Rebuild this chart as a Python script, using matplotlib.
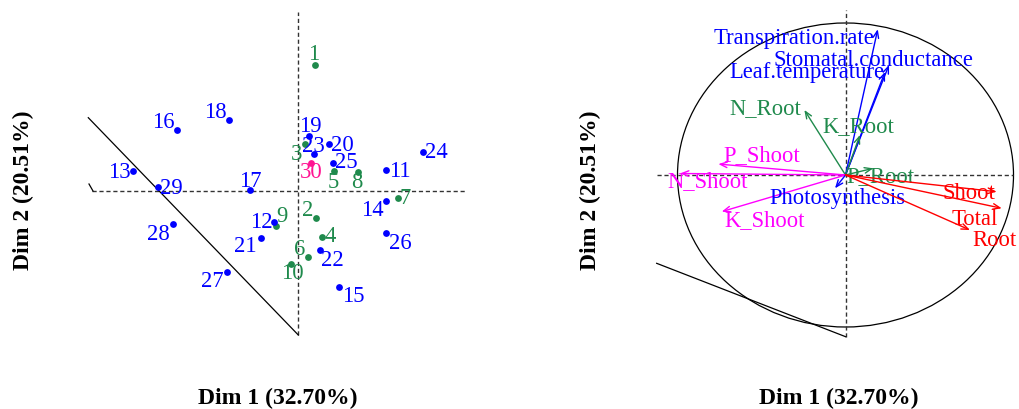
import matplotlib
matplotlib.use("Agg")
import matplotlib.pyplot as plt
from matplotlib.patches import Circle

plt.rcParams['font.family'] = ['Liberation Serif', 'DejaVu Serif']

# individuals (left panel)
ind_labels = [str(i) for i in range(1, 31)]
ind_x = [0.33, 0.35, 0.14, 0.48, 0.71, 0.19, 1.99, 1.19, -0.44, -0.14,
         1.76, -0.48, -3.31, 1.76, 0.81, -2.43, -0.97, -1.39, 0.21, 0.61,
         -0.75, 0.43, 0.31, 2.49, 0.69, 1.76, -1.43, -2.51, -2.81, 0.25]
ind_y = [2.52, -0.54, 0.95, -0.91, 0.40, -1.31, -0.13, 0.38, -0.70, -1.45,
         0.43, -0.62, 0.40, -0.20, -1.91, 1.22, 0.03, 1.42, 1.11, 0.95,
         -0.94, -1.18, 0.74, 0.79, 0.56, -0.83, -1.61, -0.66, 0.09, 0.57]
ind_group = ['g'] * 10 + ['b'] * 19 + ['p']

# variables (right panel)
var_names = ['Transpiration.rate', 'Stomatal.conductance', 'Leaf.temperature',
             'N_Root', 'K_Root', 'P_Root', 'P_Shoot', 'N_Shoot', 'K_Shoot',
             'Photosynthesis', 'Shoot', 'Total', 'Root']
var_x = [0.192, 0.259, 0.235, -0.245, 0.086, 0.165, -0.757, -0.985, -0.737,
         -0.0625, 0.90, 0.93, 0.741]
var_y = [0.959, 0.724, 0.678, 0.428, 0.263, 0.044, 0.072, 0.010, -0.241,
         -0.0875, -0.110, -0.219, -0.362]
var_group = ['b', 'b', 'b', 'g', 'g', 'g', 'm', 'm', 'm', 'b', 'r', 'r', 'r']

xlab = "Dim 1 (32.70%)"
ylab = "Dim 2 (20.51%)"

colors = {'g': '#1f8a4c', 'b': '#0000ff', 'p': '#ff1493', 'm': '#ff00ff', 'r': '#ff0000'}

# label offsets in pixels (dx, dy up)
ind_off = [(-1, 10), (-8, 7), (-9, -11), (8, 0), (0, -11), (-8, 7), (7, -1), (-1, -11),
           (6, 9), (1, -10), (14, -2), (-13, -1), (-13, -1), (-14, -9), (14, -10),
           (-14, 7), (0, 8), (-13, 8), (1, 9), (14, -2), (-15, -9), (13, -11),
           (0, 7), (14, -1), (14, 0), (14, -11), (-14, -10), (-14, -10), (14, -2), (0, -10)]
var_off = [(-84, -9), (-16, 4), (-78, -1), (-39, 1), (-2, 8), (7, -8), (43, 9),
           (28, -8), (43, -9), (2, -10), (-28, -2), (-27, -11), (25, -10)]

W, H = 1019, 409
fig = plt.figure(figsize=(W / 100, H / 100), dpi=100)
FS = 16.3
LFS = 17

# ---- left panel: individuals
ax1 = fig.add_axes([80 / W, (H - 340) / H, 390 / W, 330 / H])
ax1.set_xlim(-4.366, 3.434)
ax1.set_ylim(-2.98, 3.62)
ax1.axis('off')
ax1.plot([-4.126, 3.374], [0, 0], ls=(0, (3, 2)), color='#333333', lw=1)
ax1.plot([0, 0], [-2.88, 3.58], ls=(0, (3, 2)), color='#333333', lw=1)
ax1.plot([-4.2, 0], [1.466, -2.88], color='black', lw=0.9)
ax1.plot([-4.186, -4.106], [0.14, 0.0], color='black', lw=0.9)
for i in range(len(ind_labels)):
    c = colors[ind_group[i]]
    ax1.scatter(ind_x[i], ind_y[i], s=24, color=c, zorder=3, linewidths=0)
    ax1.annotate(ind_labels[i], (ind_x[i], ind_y[i]), xytext=ind_off[i],
                 textcoords='offset pixels', ha='center', va='center',
                 color=c, fontsize=FS)

fig.text(277.7 / W, 1 - 398 / H, xlab, ha='center', va='center',
         fontsize=LFS, fontweight='bold')
fig.text(23 / W, 1 - 190 / H, ylab, ha='center', va='center',
         fontsize=LFS, fontweight='bold', rotation=90)

# ---- right panel: variables
ax2 = fig.add_axes([650 / W, (H - 340) / H, 369 / W, 330 / H])
ax2.set_xlim(-1.1637, 1.0327)
ax2.set_ylim(-1.0855, 1.0855)
ax2.axis('off')
ax2.add_patch(Circle((0, 0), 1, fill=False, color='black', lw=0.9))
ax2.plot([-1.124, 0.997], [0, 0], ls=(0, (3, 2)), color='#333333', lw=1)
ax2.plot([0, 0], [-1.064, 1.0855], ls=(0, (3, 2)), color='#333333', lw=1)
ax2.plot([-1.124, 0.001], [-0.581, -1.064], color='black', lw=0.9)
for i in range(len(var_names)):
    c = colors[var_group[i]]
    ax2.annotate('', xy=(var_x[i], var_y[i]), xytext=(0, 0),
                 arrowprops=dict(arrowstyle='->,head_length=0.5,head_width=0.2',
                                 color=c, lw=1, shrinkA=0, shrinkB=0))
    ax2.annotate(var_names[i], (var_x[i], var_y[i]), xytext=var_off[i],
                 textcoords='offset pixels', ha='center', va='center',
                 color=c, fontsize=FS)

fig.text(839 / W, 1 - 398 / H, xlab, ha='center', va='center',
         fontsize=LFS, fontweight='bold')
fig.text(590 / W, 1 - 190 / H, ylab, ha='center', va='center',
         fontsize=LFS, fontweight='bold', rotation=90)

fig.savefig('out.png', dpi=100)
